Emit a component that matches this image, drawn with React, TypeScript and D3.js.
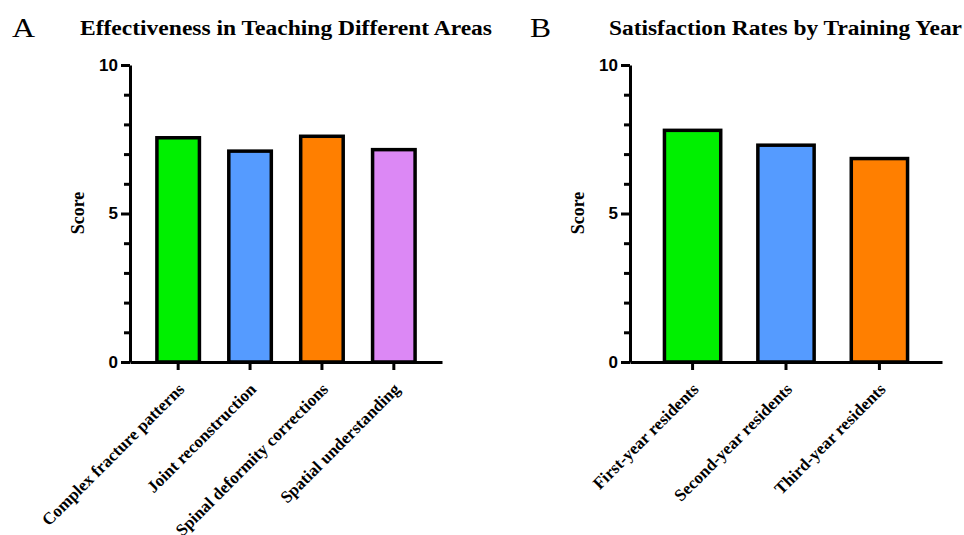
import React, { useEffect, useRef } from "react";
import * as d3 from "d3";

// panel A data
const areaCategories = [
  "Complex fracture patterns",
  "Joint reconstruction",
  "Spinal deformity corrections",
  "Spatial understanding",
];
const areaScores = [7.55, 7.1, 7.6, 7.15];
const areaColors = ["#00f000", "#559bff", "#ff7f00", "#dc88f5"];

// panel B data
const yearCategories = ["First-year residents", "Second-year residents", "Third-year residents"];
const yearScores = [7.8, 7.3, 6.85];
const yearColors = ["#00f000", "#559bff", "#ff7f00"];

// y axis ticks
const majorTicks = [0, 5, 10];
const minorTicks = [1, 2, 3, 4, 6, 7, 8, 9];

const SERIF = "'Liberation Serif', 'Times New Roman', serif";
const SANS = "'Liberation Sans', Arial, sans-serif";

type Panel = {
  letter: string;
  letterX: number;
  letterW: number;
  title: string;
  titleX: number;
  titleW: number;
  left: number;
  right: number;
  categories: string[];
  values: number[];
  colors: string[];
};

export default function App() {
  const svgRef = useRef<SVGSVGElement>(null);

  useEffect(() => {
    const svg = d3.select(svgRef.current);
    svg.selectAll("*").remove();

    const top = 65;
    const bottom = 362;

    const panels: Panel[] = [
      {
        letter: "A", letterX: 12, letterW: 23,
        title: "Effectiveness in Teaching Different Areas", titleX: 80, titleW: 412,
        left: 130, right: 442,
        categories: areaCategories, values: areaScores, colors: areaColors,
      },
      {
        letter: "B", letterX: 530, letterW: 21,
        title: "Satisfaction Rates by Training Year", titleX: 609, titleW: 353,
        left: 630, right: 942,
        categories: yearCategories, values: yearScores, colors: yearColors,
      },
    ];

    panels.forEach((p) => {
      const g = svg.append("g");

      // panel letter and title
      g.append("text")
        .attr("x", p.letterX).attr("y", 37)
        .attr("font-family", SERIF).attr("font-size", 27)
        .attr("textLength", p.letterW).attr("lengthAdjust", "spacingAndGlyphs")
        .text(p.letter);
      g.append("text")
        .attr("x", p.titleX).attr("y", 35)
        .attr("font-family", SERIF).attr("font-size", 20).attr("font-weight", "bold")
        .attr("textLength", p.titleW).attr("lengthAdjust", "spacingAndGlyphs")
        .text(p.title);

      const x = d3.scaleBand<string>()
        .domain(p.categories)
        .range([p.left, p.right])
        .paddingInner(0.36)
        .paddingOuter(0.35);

      const y = d3.scaleLinear().domain([0, 10]).range([bottom, top]);

      // bars
      const sw = 3.5;
      g.selectAll("rect.bar")
        .data(p.values)
        .join("rect")
        .attr("class", "bar")
        .attr("x", (d, i) => x(p.categories[i])! + sw / 2)
        .attr("width", x.bandwidth() - sw)
        .attr("y", (d) => y(d))
        .attr("height", (d) => y(0) - y(d))
        .attr("fill", (d, i) => p.colors[i])
        .attr("stroke", "#000")
        .attr("stroke-width", sw);

      // minor y ticks
      g.append("g")
        .attr("transform", `translate(${p.left},0)`)
        .call(d3.axisLeft(y).tickValues(minorTicks).tickSize(6).tickSizeOuter(0).tickFormat(() => ""))
        .call((a) => a.select(".domain").remove())
        .call((a) => a.selectAll("line").attr("stroke-width", 3));

      // major y ticks
      const ya = g.append("g")
        .attr("transform", `translate(${p.left},0)`)
        .call(d3.axisLeft(y).tickValues(majorTicks).tickSize(9).tickSizeOuter(0).tickPadding(3));
      ya.select(".domain").attr("stroke-width", 3);
      ya.selectAll("line").attr("stroke-width", 3);
      ya.attr("font-size", 17).attr("font-family", SANS);
      ya.selectAll("text")
        .attr("font-weight", "bold")
        .attr("fill", "#000");

      // y label
      g.append("text")
        .attr("transform", `translate(${p.left - 52},213) rotate(-90)`)
        .attr("text-anchor", "middle")
        .attr("dominant-baseline", "central")
        .attr("font-family", SERIF).attr("font-size", 18).attr("font-weight", "bold")
        .text("Score");

      // x axis
      const xa = g.append("g")
        .attr("transform", `translate(0,${bottom})`)
        .call(d3.axisBottom(x).tickSize(8).tickSizeOuter(0).tickFormat(() => ""));
      xa.select(".domain").attr("stroke-width", 3);
      xa.selectAll("line").attr("stroke-width", 3);

      // rotated category labels
      g.selectAll("text.cat")
        .data(p.categories)
        .join("text")
        .attr("class", "cat")
        .attr("transform", (d) => `translate(${x(d)! + x.bandwidth() / 2 + 3},${bottom + 24}) rotate(-45)`)
        .attr("text-anchor", "end")
        .attr("dy", "0.35em")
        .attr("font-family", SERIF).attr("font-size", 17).attr("font-weight", "bold")
        .text((d) => d);
    });
  }, []);

  return (
    <svg
      ref={svgRef}
      width={964}
      height={535}
      style={{ position: "absolute", left: 0, top: 0, background: "#fff" }}
    />
  );
}
